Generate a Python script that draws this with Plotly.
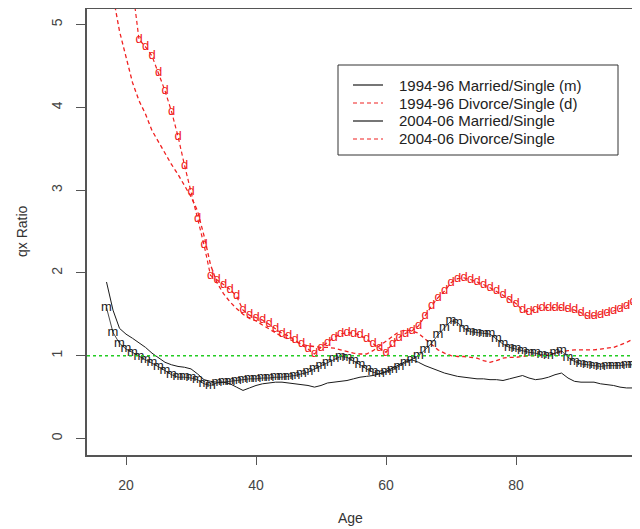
import plotly.graph_objects as go

ages = list(range(17, 99))

married_9496 = [1.58, 1.28, 1.15, 1.08, 1.04, 0.99, 0.95, 0.91, 0.87, 0.82,
                0.77, 0.74, 0.74, 0.73, 0.71, 0.66, 0.64, 0.67, 0.68, 0.69,
                0.70, 0.71, 0.72, 0.72, 0.73, 0.73, 0.74, 0.74, 0.75, 0.76,
                0.78, 0.80, 0.84, 0.88, 0.92, 0.96, 0.99, 0.98, 0.94, 0.89,
                0.84, 0.80, 0.78, 0.80, 0.83, 0.87, 0.91, 0.95, 1.00, 1.07,
                1.15, 1.25, 1.34, 1.42, 1.40, 1.33, 1.29, 1.28, 1.27, 1.26,
                1.20, 1.14, 1.10, 1.08, 1.06, 1.04, 1.03, 1.01, 1.00, 1.03,
                1.06, 0.98, 0.93, 0.90, 0.89, 0.88, 0.87, 0.88, 0.88, 0.88,
                0.89, 0.89]

divorce_9496 = [9.0, 7.8, 6.8, 6.0, 5.45, 4.82, 4.73, 4.62, 4.42, 4.20,
                3.95, 3.65, 3.30, 2.98, 2.66, 2.34, 1.97, 1.92, 1.86, 1.80,
                1.72, 1.55, 1.49, 1.46, 1.43, 1.38, 1.32, 1.27, 1.24, 1.19,
                1.14, 1.08, 1.02, 1.10, 1.16, 1.22, 1.26, 1.28, 1.27, 1.25,
                1.20, 1.14, 1.09, 1.04, 1.15, 1.22, 1.27, 1.30, 1.36, 1.48,
                1.60, 1.70, 1.78, 1.88, 1.93, 1.94, 1.92, 1.89, 1.86, 1.82,
                1.78, 1.73, 1.68, 1.63, 1.55, 1.53, 1.56, 1.58, 1.58, 1.58,
                1.58, 1.57, 1.55, 1.52, 1.48, 1.48, 1.50, 1.52, 1.54, 1.57,
                1.60, 1.65]

married_0406 = [1.89, 1.55, 1.33, 1.26, 1.21, 1.16, 1.10, 1.03, 0.97, 0.92,
                0.89, 0.87, 0.86, 0.84, 0.78, 0.71, 0.69, 0.68, 0.68, 0.66,
                0.62, 0.58, 0.61, 0.64, 0.66, 0.67, 0.68, 0.68, 0.67, 0.66,
                0.65, 0.64, 0.62, 0.64, 0.67, 0.68, 0.69, 0.70, 0.72, 0.74,
                0.75, 0.76, 0.78, 0.81, 0.85, 0.89, 0.93, 0.95, 0.92, 0.88,
                0.85, 0.82, 0.79, 0.77, 0.75, 0.74, 0.73, 0.72, 0.72, 0.71,
                0.71, 0.70, 0.72, 0.74, 0.76, 0.73, 0.71, 0.72, 0.74, 0.77,
                0.79, 0.73, 0.69, 0.68, 0.68, 0.68, 0.66, 0.65, 0.64, 0.62,
                0.61, 0.61]

divorce_0406 = [7.5, 5.35, 4.92, 4.60, 4.30, 4.08, 3.92, 3.72, 3.58, 3.44,
                3.31, 3.19, 3.06, 2.92, 2.75, 2.45, 2.10, 1.88, 1.75, 1.65,
                1.57, 1.50, 1.45, 1.42, 1.37, 1.32, 1.27, 1.23, 1.20, 1.17,
                1.14, 1.12, 1.11, 1.10, 1.10, 1.09, 1.07, 1.05, 1.03, 1.02,
                1.02, 1.06, 1.12, 1.18, 1.24, 1.29, 1.31, 1.30, 1.27, 1.20,
                1.13, 1.07, 1.03, 1.00, 0.99, 0.99, 0.98, 0.97, 0.94, 0.92,
                0.94, 0.97, 0.98, 0.98, 0.99, 1.00, 1.00, 1.00, 1.01, 1.03,
                1.05, 1.06, 1.07, 1.07, 1.07, 1.07, 1.08, 1.09, 1.10, 1.13,
                1.16, 1.20]

legend_labels = ["1994-96 Married/Single (m)", "1994-96 Divorce/Single (d)",
                 "2004-06 Married/Single", "2004-06 Divorce/Single"]

x_ticks = [20, 40, 60, 80]
y_ticks = [0, 1, 2, 3, 4, 5]
Y_MIN, Y_MAX = -0.2, 5.2

BLACK = "#1a1a1a"
RED = "#f02020"
FONT = "Liberation Sans, Arial, sans-serif"

# page body has an 8px margin; compensate so the plot lands on target pixels
OFF = 8
W, H = 640 - OFF, 529 - OFF
L, R, T, B = 87 - OFF, 0, 9 - OFF, 74
PX_PER_YEAR = 6.5
PX_PER_UNIT = 447 / 5.4

pw, ph = W - L - R, H - T - B

def px(xp):  # window pixel x -> paper
    return (xp - OFF - L) / pw

def py(yp):  # window pixel y -> paper
    return (H - B - (yp - OFF)) / ph

def glyphs(ch, vals):  # plotting character, hidden where the point is off the chart
    return [ch if v <= Y_MAX else "" for v in vals]

fig = go.Figure()

fig.add_trace(go.Scatter(
    x=ages, y=married_0406, mode="lines",
    line=dict(color=BLACK, width=1), showlegend=False))
fig.add_trace(go.Scatter(
    x=ages, y=divorce_0406, mode="lines",
    line=dict(color=RED, width=1.3, dash="4px,3px"), showlegend=False))
fig.add_trace(go.Scatter(
    x=ages, y=married_9496, mode="lines+text", text=glyphs("m", married_9496),
    textposition="middle center",
    textfont=dict(family=FONT, size=13, color=BLACK),
    line=dict(color=BLACK, width=0.8), showlegend=False))
fig.add_trace(go.Scatter(
    x=ages, y=divorce_9496, mode="lines+text", text=glyphs("d", divorce_9496),
    textposition="middle center",
    textfont=dict(family=FONT, size=13, color=RED),
    line=dict(color=RED, width=1.2, dash="4px,3px"), showlegend=False))

# reference line at ratio 1
fig.add_shape(type="line", xref="paper", x0=0, x1=1, yref="y", y0=1, y1=1,
              line=dict(color="#22cc22", width=1.5, dash="dot"))

# custom legend box
fig.add_shape(type="rect", xref="paper", yref="paper",
              x0=px(338), x1=px(618), y0=py(155), y1=py(65),
              line=dict(color="#333", width=1), fillcolor="white")
rows = [85, 103, 121, 139]
styles = [(BLACK, "solid"), (RED, "4px,3px"), (BLACK, "solid"), (RED, "4px,3px")]
for lbl, yy, (c, d) in zip(legend_labels, rows, styles):
    fig.add_shape(type="line", xref="paper", yref="paper",
                  x0=px(353), x1=px(383), y0=py(yy), y1=py(yy),
                  line=dict(color=c, width=1.2, dash=d))
    fig.add_annotation(xref="paper", yref="paper", x=px(397), y=py(yy),
                       text=lbl, showarrow=False, xanchor="left", yanchor="middle",
                       font=dict(family=FONT, size=15, color="#222"))

# axis titles
fig.add_annotation(xref="paper", yref="paper", x=px(350), y=py(518), text="Age",
                   showarrow=False, xanchor="center", yanchor="middle",
                   font=dict(family=FONT, size=14, color="#333"))
fig.add_annotation(xref="paper", yref="paper", x=px(22), y=py(231), text="qx Ratio",
                   showarrow=False, xanchor="center", yanchor="middle", textangle=-90,
                   font=dict(family=FONT, size=14, color="#333"))

y_top = Y_MAX - 1 / PX_PER_UNIT
fig.update_layout(
    width=W, height=H,
    margin=dict(l=L, r=R, t=T, b=B),
    paper_bgcolor="white", plot_bgcolor="white",
    font=dict(family=FONT, size=14, color="#444"),
    xaxis=dict(range=[14, 14 + pw / PX_PER_YEAR], tickvals=x_ticks,
               ticktext=[str(v) for v in x_ticks],
               showgrid=False, zeroline=False, showline=True, mirror=True,
               linecolor="#555", linewidth=1.5, ticks="outside", ticklen=8,
               tickcolor="#555", tickwidth=1.2, ticklabelstandoff=8,
               tickfont=dict(family=FONT, size=14, color="#444")),
    yaxis=dict(range=[Y_MIN, y_top], tickvals=y_ticks, ticktext=[str(v) for v in y_ticks],
               showgrid=False, zeroline=False, showline=True, mirror=False,
               linecolor="#555", linewidth=1.5, ticks="outside", ticklen=9,
               tickcolor="#555", tickwidth=1.2, tickangle=-90, ticklabelstandoff=9,
               tickfont=dict(family=FONT, size=14, color="#444")),
)

fig.write_html("out.html")
